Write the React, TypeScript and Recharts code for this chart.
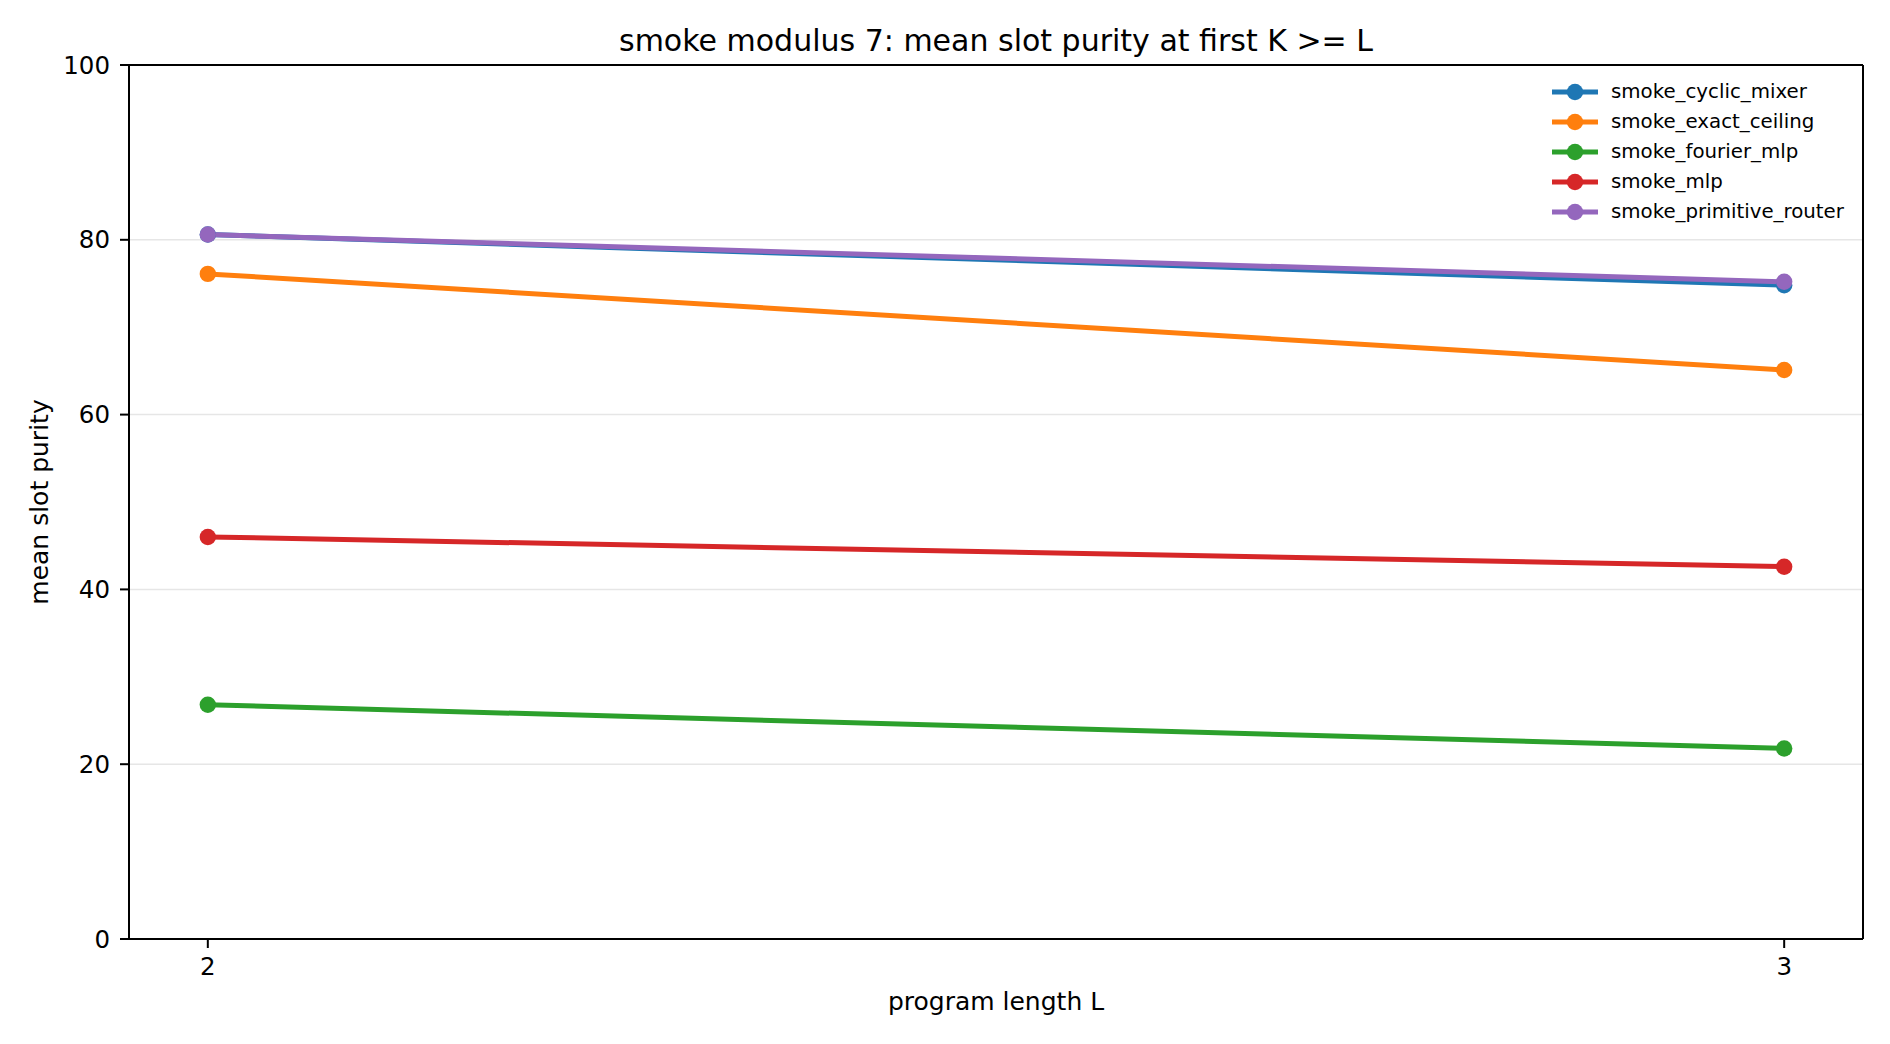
import { CartesianGrid, Legend, Line, LineChart, ReferenceLine, XAxis, YAxis } from 'recharts';

const FONT = '"DejaVu Sans", sans-serif';

const LENGTHS = [2, 3];
const X_TICKS = [2, 3];
const Y_TICKS = [0, 20, 40, 60, 80, 100];

const CYCLIC_MIXER = [80.6, 74.8];
const EXACT_CEILING = [76.1, 65.1];
const FOURIER_MLP = [26.8, 21.8];
const MLP = [46.0, 42.6];
const PRIMITIVE_ROUTER = [80.6, 75.2];

const SERIES = [
  { key: 'smoke_cyclic_mixer', color: '#1f77b4', values: CYCLIC_MIXER },
  { key: 'smoke_exact_ceiling', color: '#ff7f0e', values: EXACT_CEILING },
  { key: 'smoke_fourier_mlp', color: '#2ca02c', values: FOURIER_MLP },
  { key: 'smoke_mlp', color: '#d62728', values: MLP },
  { key: 'smoke_primitive_router', color: '#9467bd', values: PRIMITIVE_ROUTER },
];

const rows = LENGTHS.map((L, i) => {
  const row: Record<string, number> = { L };
  SERIES.forEach((s) => {
    row[s.key] = s.values[i];
  });
  return row;
});

function LegendBox() {
  return (
    <div style={{ fontFamily: FONT, fontSize: 19.8, color: '#000' }}>
      {SERIES.map((s) => (
        <div key={s.key} style={{ display: 'flex', alignItems: 'center', height: 30.1 }}>
          <svg width={46} height={30} style={{ display: 'block' }}>
            <line x1={0} y1={15} x2={46} y2={15} stroke={s.color} strokeWidth={5} />
            <circle cx={23} cy={15} r={8.2} fill={s.color} />
          </svg>
          <span style={{ marginLeft: 13, lineHeight: '30px', whiteSpace: 'nowrap' }}>{s.key}</span>
        </div>
      ))}
    </div>
  );
}

export default function App() {
  return (
    <div style={{ position: 'absolute', left: 0, top: 0, width: 1890, height: 1044, background: '#fff' }}>
      <LineChart width={1890} height={1044} data={rows} margin={{ top: 65, right: 27, bottom: 0, left: 0 }}>
        <CartesianGrid vertical={false} stroke="#e6e6e6" strokeWidth={1.5} />
        <XAxis
          dataKey="L"
          type="number"
          domain={[1.95, 3.05]}
          ticks={X_TICKS}
          allowDataOverflow
          height={105}
          tickSize={9}
          tickMargin={10}
          axisLine={{ stroke: '#000', strokeWidth: 2 }}
          tickLine={{ stroke: '#000', strokeWidth: 2 }}
          tick={{ fill: '#000', fontSize: 24.5, fontFamily: FONT }}
        />
        <YAxis
          domain={[0, 100]}
          ticks={Y_TICKS}
          allowDataOverflow
          width={129}
          tickSize={9}
          tickMargin={10}
          axisLine={{ stroke: '#000', strokeWidth: 2 }}
          tickLine={{ stroke: '#000', strokeWidth: 2 }}
          tick={{ fill: '#000', fontSize: 24.5, fontFamily: FONT }}
        />
        <ReferenceLine y={100} stroke="#000" strokeWidth={2} />
        <ReferenceLine x={3.05} stroke="#000" strokeWidth={2} />
        {SERIES.map((s) => (
          <Line
            key={s.key}
            dataKey={s.key}
            stroke={s.color}
            strokeWidth={5}
            dot={{ r: 8.2, fill: s.color, stroke: s.color, strokeWidth: 0 }}
            activeDot={false}
            isAnimationActive={false}
          />
        ))}
        <Legend
          layout="vertical"
          align="center"
          verticalAlign="middle"
          content={() => <LegendBox />}
          wrapperStyle={{ position: 'absolute', left: 1552, top: 77, width: 'auto', height: 'auto' }}
        />
      </LineChart>
      <svg
        width={1890}
        height={1044}
        style={{ position: 'absolute', left: 0, top: 0, pointerEvents: 'none' }}
      >
        <text x={996} y={51} textAnchor="middle" fontFamily={FONT} fontSize={30} fill="#000">
          smoke modulus 7: mean slot purity at first K &gt;= L
        </text>
        <text x={996} y={1010} textAnchor="middle" fontFamily={FONT} fontSize={25} fill="#000">
          program length L
        </text>
        <text
          x={0}
          y={0}
          transform="translate(48 502) rotate(-90)"
          textAnchor="middle"
          fontFamily={FONT}
          fontSize={25}
          fill="#000"
        >
          mean slot purity
        </text>
      </svg>
    </div>
  );
}
